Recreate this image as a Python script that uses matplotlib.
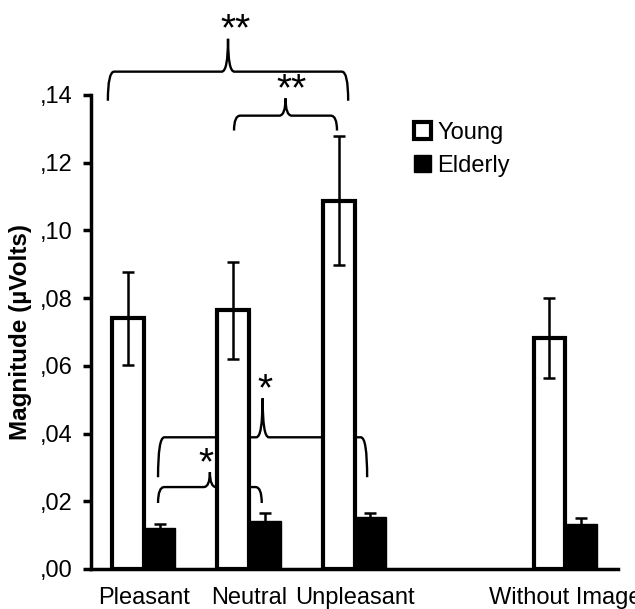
import matplotlib
matplotlib.use("Agg")
import matplotlib.pyplot as plt
import numpy as np
from matplotlib.path import Path
from matplotlib.patches import PathPatch

# data
categories = ["Pleasant", "Neutral", "Unpleasant", "Without Image"]
young = [0.0740, 0.0764, 0.1088, 0.0681]
young_err = [0.0138, 0.0143, 0.0190, 0.0118]
elderly = [0.0121, 0.0142, 0.0153, 0.0133]
elderly_err = [0.0012, 0.0023, 0.0012, 0.0017]
ytick_values = [0.00, 0.02, 0.04, 0.06, 0.08, 0.10, 0.12, 0.14]
ytick_labels = [",00", ",02", ",04", ",06", ",08", ",10", ",12", ",14"]

# significance braces: (x start, x end, y of bar, drop of ends, rise of peak, label, label shift)
braces = [
    (-0.34, 1.94, 0.1469, 0.0086, 0.0097, "**", 0.07),
    (0.857, 1.834, 0.1339, 0.0044, 0.0051, "**", 0.06),
    (0.136, 1.12, 0.0242, 0.0047, 0.0044, "*", -0.04),
    (0.136, 2.12, 0.0389, 0.0118, 0.0115, "*", 0.02),
]

plt.rcParams['font.family'] = ['Liberation Sans', 'DejaVu Sans']


def drawBrace(ax, x0, x1, y, drop, rise, label, shift):
    """
    Draws a curly brace with a star label above its peak
    """
    xm = (x0 + x1) / 2
    rx = 0.06
    cw = 0.06
    verts = [(x0, y - drop), (x0, y), (x0 + rx, y), (xm - cw, y), (xm, y),
             (xm, y + rise), (xm, y), (xm + cw, y), (x1 - rx, y), (x1, y),
             (x1, y - drop)]
    codes = [Path.MOVETO, Path.CURVE3, Path.CURVE3, Path.LINETO, Path.CURVE3,
             Path.CURVE3, Path.CURVE3, Path.CURVE3, Path.LINETO, Path.CURVE3,
             Path.CURVE3]
    patch = PathPatch(Path(verts, codes), facecolor='none', edgecolor='black',
                      linewidth=1.7, zorder=1, clip_on=False)
    ax.add_patch(patch)
    ax.text(xm + shift, y + rise - 0.0005, label, ha='center', va='baseline',
            fontsize=28, clip_on=False, zorder=5)


fig = plt.figure(figsize=(6.35, 6.09), dpi=100)
ax = fig.add_axes([91 / 635, 1 - 569 / 609, 527 / 635, 474 / 609])

x = np.arange(len(categories), dtype=float)
x[-1] += 1  # empty slot before "Without Image"
w = 0.30

ax.bar(x - w / 2, young, w, color='white', edgecolor='black', linewidth=3,
       label='Young', zorder=3)
ax.bar(x + w / 2, elderly, w, color='black', edgecolor='black', linewidth=1,
       label='Elderly', zorder=3)
ax.errorbar(x - w / 2, young, yerr=young_err, fmt='none', ecolor='black',
            elinewidth=1.8, capsize=4, capthick=1.8, zorder=4)
ax.errorbar(x + w / 2, elderly, yerr=elderly_err, fmt='none', ecolor='black',
            elinewidth=1.8, capsize=4, capthick=1.8, zorder=4)

for b in braces:
    drawBrace(ax, *b)

ax.set_xlim(-0.5, 4.5)
ax.set_ylim(0, 0.14)
ax.set_yticks(ytick_values)
ax.set_yticklabels(ytick_labels, fontsize=17)
ax.set_xticks(x)
ax.set_xticklabels(categories, fontsize=17)
ax.tick_params(axis='x', length=0, pad=13)
ax.tick_params(axis='y', length=6, width=2.5, pad=7)
for s in ['top', 'right']:
    ax.spines[s].set_visible(False)
for s in ['left', 'bottom']:
    ax.spines[s].set_linewidth(2.5)

ax.set_ylabel('Magnitude (\u00b5Volts)', fontsize=17.5, fontweight='bold')
ax.yaxis.set_label_coords(-0.112, 0.5)

fig.legend(loc='upper left', bbox_to_anchor=(414 / 635, 1 - 122 / 609),
           frameon=False, fontsize=17, handlelength=0.7, handleheight=0.7,
           handletextpad=0.3, labelspacing=0.45, borderpad=0, borderaxespad=0)

fig.savefig('out.png', dpi=100)
